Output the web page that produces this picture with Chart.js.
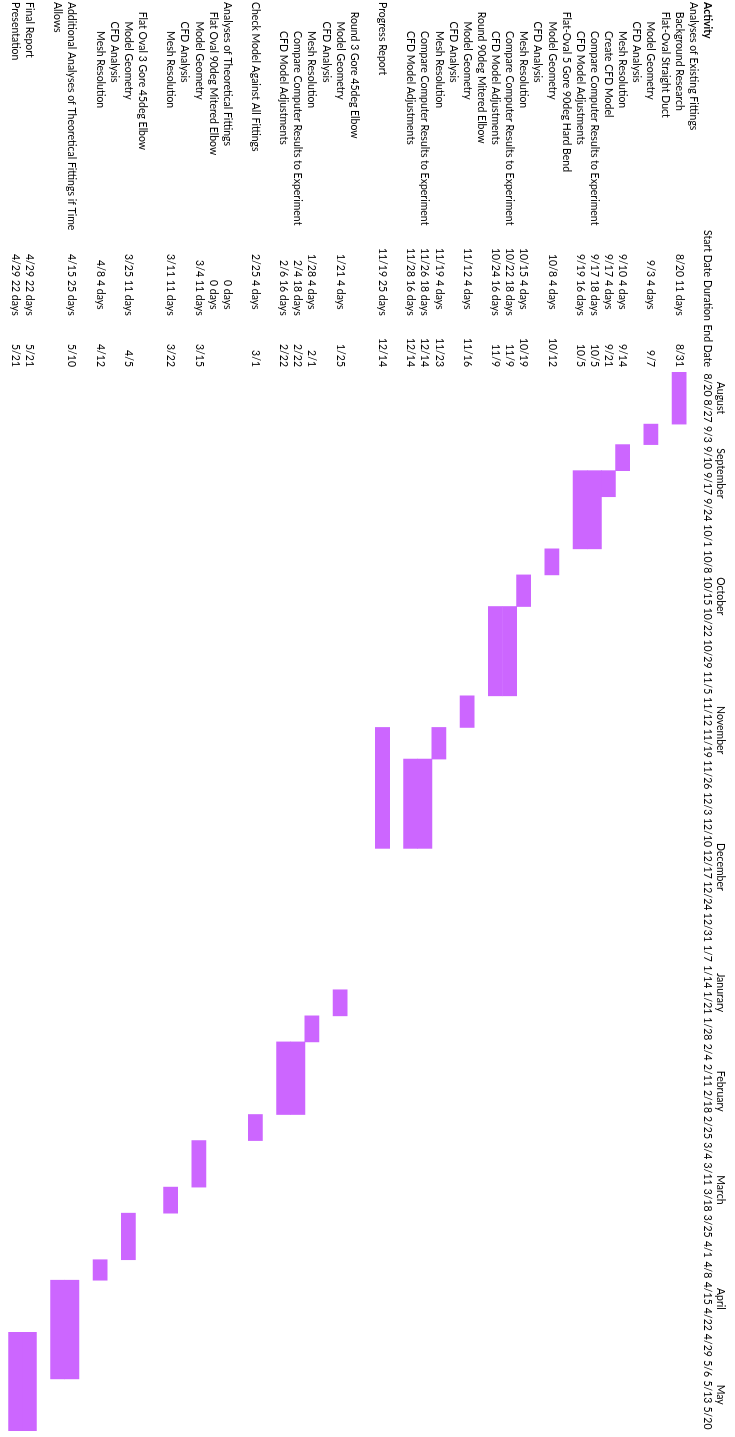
<!DOCTYPE html>
<html>
<head>
<meta charset="utf-8">
<script src="https://cdn.jsdelivr.net/npm/chart.js@4.4.1/dist/chart.umd.min.js"></script>
<style>
html,body{margin:0;padding:0;overflow:hidden;background:#fff;width:735px;height:1437px;}
#wrap{position:absolute;left:0;top:0;width:1437px;height:735px;transform-origin:0 0;transform:translate(735px,0) rotate(90deg);background:#fff;}
canvas{display:block;}
</style>
</head>
<body>
<div id="wrap"><canvas id="c" width="1437" height="735"></canvas></div>
<script>
// ---------------- DATA ----------------
const headers = ['Activity', 'Start Date', 'Duration', 'End Date'];

const weeks = ['8/20','8/27','9/3','9/10','9/17','9/24','10/1','10/8','10/15','10/22','10/29','11/5','11/12','11/19','11/26','12/3','12/10','12/17','12/24','12/31','1/7','1/14','1/21','1/28','2/4','2/11','2/18','2/25','3/4','3/11','3/18','3/25','4/1','4/8','4/15','4/22','4/29','5/6','5/13','5/20'];

const monthNames = ['August','September','October','November','December','Janurary','February','March','April','May'];
const monthNumbers = [8, 9, 10, 11, 12, 1, 2, 3, 4, 5];

const activities = [
  'Analyses of Existing Fittings',
  'Background Research',
  'Flat-Oval Straight Duct',
  'Model Geometry',
  'CFD Analysis',
  'Mesh Resolution',
  'Create CFD Model',
  'Compare Computer Results to Experiment',
  'CFD Model Adjustments',
  'Flat-Oval 5 Gore 90deg Hard Bend',
  'Model Geometry',
  'CFD Analysis',
  'Mesh Resolution',
  'Compare Computer Results to Experiment',
  'CFD Model Adjustments',
  'Round 90deg Mitered Elbow',
  'Model Geometry',
  'CFD Analysis',
  'Mesh Resolution',
  'Compare Computer Results to Experiment',
  'CFD Model Adjustments',
  '',
  'Progress Report',
  '',
  'Round 3 Gore 45deg Elbow',
  'Model Geometry',
  'CFD Analysis',
  'Mesh Resolution',
  'Compare Computer Results to Experiment',
  'CFD Model Adjustments',
  '',
  'Check Model Against All Fittings',
  '',
  'Analyses of Theoretical Fittings',
  'Flat Oval 90deg Mitered Elbow',
  'Model Geometry',
  'CFD Analysis',
  'Mesh Resolution',
  '',
  'Flat Oval 3 Gore 45deg Elbow',
  'Model Geometry',
  'CFD Analysis',
  'Mesh Resolution',
  '',
  'Additional Analyses of Theoretical Fittings if Time',
  'Allows',
  '',
  'Final Report',
  'Presentation'
];

// outline level of each activity row
const levels = [0,1,1,2,2,3,3,3,3,1,2,2,3,3,3,1,2,2,3,3,3,0,0,0,1,2,2,3,3,3,0,0,0,0,1,2,2,3,0,1,2,2,3,0,0,0,0,0,0];

const startDates = ['','8/20','','9/3','','9/10','9/17','9/17','9/19','','10/8','','10/15','10/22','10/24','','11/12','','11/19','11/26','11/28','','11/19','','','1/21','','1/28','2/4','2/6','','2/25','','','','3/4','','3/11','','','3/25','','4/8','','4/15','','','4/29','4/29'];

const durations = ['','11 days','','4 days','','4 days','4 days','18 days','16 days','','4 days','','4 days','18 days','16 days','','4 days','','4 days','18 days','16 days','','25 days','','','4 days','','4 days','18 days','16 days','','4 days','','0 days','0 days','11 days','','11 days','','','11 days','','4 days','','25 days','','','22 days','22 days'];

const endDates = ['','8/31','','9/7','','9/14','9/21','10/5','10/5','','10/12','','10/19','11/9','11/9','','11/16','','11/23','12/14','12/14','','12/14','','','1/25','','2/1','2/22','2/22','','3/1','','','','3/15','','3/22','','','4/5','','4/12','','5/10','','','5/21','5/21'];

// first and last week column filled for each row
const barStartWeek = [null,'8/20',null,'9/3',null,'9/10','9/17','9/17','9/17',null,'10/8',null,'10/15','10/22','10/22',null,'11/12',null,'11/19','11/26','11/26',null,'11/19',null,null,'1/21',null,'1/28','2/4','2/4',null,'2/25',null,null,null,'3/4',null,'3/18',null,null,'3/25',null,'4/8',null,'4/15','4/15',null,'4/29','4/29'];
const barEndWeek   = [null,'8/27',null,'9/3',null,'9/10','9/17','10/1','10/1',null,'10/8',null,'10/15','11/5','11/5',null,'11/12',null,'11/19','12/10','12/10',null,'12/10',null,null,'1/21',null,'1/28','2/18','2/18',null,'2/25',null,null,null,'3/11',null,'3/18',null,null,'4/1',null,'4/8',null,'5/6','5/6',null,'5/20','5/20'];

// ---------------- CHART ----------------
const FAMILY = 'Lato, "Open Sans", "DejaVu Sans", sans-serif';
const FS = 10.5;
const BAR_COLOR = '#cc66ff';

function build() {
  Chart.defaults.font.family = FAMILY;
  Chart.defaults.color = '#000';

  // week columns auto-fit to their label width (like spreadsheet columns)
  const mctx = document.createElement('canvas').getContext('2d');
  mctx.font = FS + 'px ' + FAMILY;
  const colW = weeks.map(w => mctx.measureText(w).width + 5.5);
  const edges = [0];
  colW.forEach(w => edges.push(edges[edges.length - 1] + w));
  const total = edges[edges.length - 1];
  const centers = colW.map((w, i) => edges[i] + w / 2);
  const wi = w => weeks.indexOf(w);

  const barData = activities.map((a, i) =>
    barStartWeek[i] ? [edges[wi(barStartWeek[i])], edges[wi(barEndWeek[i]) + 1]] : null);

  const monthCenters = monthNumbers.map(m => {
    const idx = weeks.map((w, i) => [parseInt(w.split('/')[0], 10), i]).filter(p => p[0] === m).map(p => p[1]);
    return (edges[idx[0]] + edges[idx[idx.length - 1] + 1]) / 2;
  });

  const zeroPad = s => { s.paddingLeft = 0; s.paddingRight = 0; s.paddingTop = 0; s.paddingBottom = 0; };
  const tickFont = { family: FAMILY, size: FS, lineHeight: 1 };

  function yAxis(labels, weight, width, align, padding, mirror) {
    return {
      type: 'category', position: 'left', labels: labels, offset: true, weight: weight,
      grid: { display: false, drawTicks: false }, border: { display: false },
      ticks: { autoSkip: false, crossAlign: align, padding: padding, mirror: !!mirror, color: '#000', font: tickFont },
      afterFit: s => { s.width = width; zeroPad(s); }
    };
  }
  const lvl = L => activities.map((a, i) => levels[i] === L ? a : '');
  const STEP = 9.7;
  const L3W = 231 - 3 * STEP;

  const headerPlugin = {
    id: 'headerRow',
    afterDraw(chart) {
      const c = chart.ctx;
      const xs = chart.scales.x;
      const y = xs.bottom - 1.5 - FS / 2;
      c.save();
      c.fillStyle = '#000';
      c.textBaseline = 'middle';
      c.font = 'bold ' + FS + 'px ' + FAMILY;
      c.textAlign = 'left';
      c.fillText(headers[0], chart.scales.y.left, y);
      c.font = FS + 'px ' + FAMILY;
      c.textAlign = 'right';
      c.fillText(headers[1], chart.scales.ys.right - 3, y);
      c.textAlign = 'left';
      c.fillText(headers[2], chart.scales.yd.left, y);
      c.textAlign = 'right';
      c.fillText(headers[3], chart.scales.ye.right - 5, y);
      c.restore();
    }
  };

  new Chart(document.getElementById('c'), {
    type: 'bar',
    data: {
      labels: activities,
      datasets: [{
        data: barData,
        backgroundColor: BAR_COLOR,
        borderWidth: 0,
        barPercentage: 1,
        categoryPercentage: 1,
        xAxisID: 'x',
        yAxisID: 'y'
      }]
    },
    options: {
      indexAxis: 'y',
      responsive: false,
      animation: false,
      events: [],
      layout: { padding: { left: 2, top: 8.8, right: 6, bottom: 8.3 } },
      plugins: { legend: { display: false }, tooltip: { enabled: false }, title: { display: false } },
      scales: {
        x: {
          type: 'linear', position: 'top', min: 0, max: total, weight: 5,
          grid: { display: false, drawTicks: false }, border: { display: false },
          afterBuildTicks: s => { s.ticks = centers.map(v => ({ value: v })); },
          ticks: { autoSkip: false, maxRotation: 0, minRotation: 0, padding: 1.5, color: '#000', font: tickFont,
                   callback: (v, i) => weeks[i] },
          afterFit: s => { s.height = 12; zeroPad(s); }
        },
        xm: {
          type: 'linear', position: 'top', min: 0, max: total, weight: 10,
          grid: { display: false, drawTicks: false }, border: { display: false },
          afterBuildTicks: s => { s.ticks = monthCenters.map(v => ({ value: v })); },
          ticks: { autoSkip: false, maxRotation: 0, minRotation: 0, padding: 3, color: '#000', font: tickFont,
                   callback: (v, i) => monthNames[i] },
          afterFit: s => { s.height = 14; zeroPad(s); }
        },
        // outline levels: mirrored labels start at the left edge of their own column and may run on to the right
        y:  yAxis(lvl(0), 80, STEP, 'near', -STEP, true),
        y1: yAxis(lvl(1), 70, STEP, 'near', -STEP, true),
        y2: yAxis(lvl(2), 60, STEP, 'near', -STEP, true),
        y3: yAxis(lvl(3), 50, L3W, 'near', -L3W, true),
        ys: yAxis(startDates, 30, 47, 'near', 3),
        yd: yAxis(durations, 20, 45, 'far', 0),
        ye: yAxis(endDates, 10, 47, 'near', 5)
      }
    },
    plugins: [headerPlugin]
  });
}

const fontReady = (document.fonts && document.fonts.load)
  ? Promise.all([document.fonts.load(FS + 'px Lato'), document.fonts.load('bold ' + FS + 'px Lato')])
  : Promise.resolve();
Promise.race([fontReady, new Promise(r => setTimeout(r, 800))]).then(build, build);
</script>
</body>
</html>
